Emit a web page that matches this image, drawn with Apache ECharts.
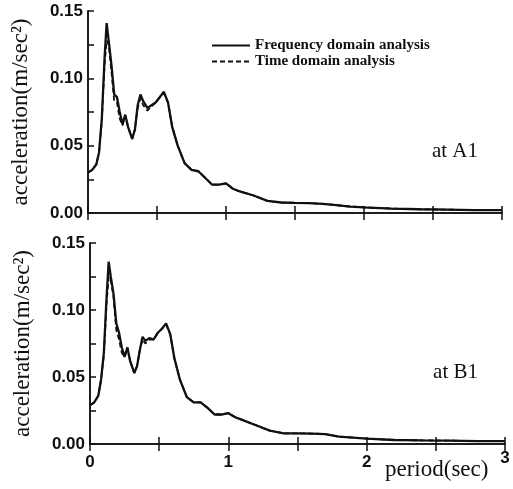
<!DOCTYPE html>
<html>
<head>
<meta charset="utf-8">
<script src="https://cdn.jsdelivr.net/npm/echarts@6/dist/echarts.min.js"></script>
<style>
  html, body { margin: 0; padding: 0; background: #fff; }
  #chart { width: 513px; height: 489px; }
</style>
</head>
<body>
<div id="chart"></div>
<script>
  // period (sec) sample points shared by all curves
  const periods = [
    0.0, 0.03, 0.06, 0.08, 0.10, 0.12, 0.135, 0.15, 0.17, 0.19,
    0.21, 0.23, 0.25, 0.27, 0.29, 0.32, 0.34, 0.36, 0.38, 0.40,
    0.43, 0.46, 0.49, 0.52, 0.55, 0.58, 0.61, 0.65, 0.70, 0.75,
    0.80, 0.85, 0.90, 0.95, 1.00, 1.05, 1.10, 1.20, 1.30, 1.40,
    1.50, 1.60, 1.70, 1.80, 1.90, 2.00, 2.20, 2.40, 2.60, 2.80, 3.00
  ]

  // at A1
  const accelFreqA1 = [
    0.030, 0.032, 0.036, 0.045, 0.070, 0.115, 0.141, 0.128, 0.110, 0.088,
    0.086, 0.075, 0.066, 0.073, 0.064, 0.055, 0.062, 0.080, 0.088, 0.083,
    0.078, 0.080, 0.082, 0.086, 0.090, 0.082, 0.064, 0.050, 0.037, 0.032,
    0.031, 0.026, 0.021, 0.021, 0.022, 0.018, 0.016, 0.013, 0.009, 0.0078,
    0.0075, 0.0074, 0.0068, 0.0058, 0.0048, 0.0042, 0.0033, 0.0028, 0.0025, 0.0022, 0.0022
  ]
  const accelTimeA1 = [
    0.030, 0.032, 0.036, 0.045, 0.068, 0.110, 0.128, 0.125, 0.105, 0.083,
    0.082, 0.070, 0.065, 0.072, 0.064, 0.055, 0.062, 0.078, 0.085, 0.080,
    0.076, 0.079, 0.082, 0.086, 0.089, 0.082, 0.064, 0.050, 0.037, 0.032,
    0.031, 0.026, 0.021, 0.021, 0.022, 0.018, 0.016, 0.013, 0.009, 0.0078,
    0.0075, 0.0074, 0.0068, 0.0058, 0.0048, 0.0042, 0.0033, 0.0028, 0.0025, 0.0022, 0.0022
  ]

  // at B1
  const accelFreqB1 = [
    0.029, 0.031, 0.036, 0.048, 0.068, 0.110, 0.136, 0.125, 0.112, 0.090,
    0.083, 0.072, 0.065, 0.072, 0.062, 0.053, 0.058, 0.070, 0.080, 0.077,
    0.079, 0.078, 0.083, 0.086, 0.090, 0.082, 0.064, 0.048, 0.035, 0.031,
    0.031, 0.027, 0.022, 0.022, 0.023, 0.020, 0.018, 0.014, 0.010, 0.008,
    0.008, 0.0078, 0.0074, 0.0055, 0.0048, 0.0040, 0.0030, 0.0027, 0.0025, 0.0022, 0.0022
  ]
  const accelTimeB1 = [
    0.029, 0.031, 0.036, 0.048, 0.066, 0.105, 0.125, 0.122, 0.110, 0.085,
    0.078, 0.068, 0.065, 0.072, 0.062, 0.053, 0.058, 0.070, 0.078, 0.075,
    0.078, 0.078, 0.083, 0.086, 0.089, 0.082, 0.064, 0.048, 0.035, 0.031,
    0.031, 0.027, 0.022, 0.022, 0.023, 0.020, 0.018, 0.014, 0.010, 0.008,
    0.008, 0.0078, 0.0074, 0.0055, 0.0048, 0.0040, 0.0030, 0.0027, 0.0025, 0.0022, 0.0022
  ]

  const seriesNames = ['Frequency domain analysis', 'Time domain analysis']
  const panelLabels = ['at A1', 'at B1']

  const serif = '"Liberation Serif", "Times New Roman", serif'
  const sans = '"Liberation Sans", Arial, sans-serif'
  const ink = '#111'

  const pair = (xs, ys) => xs.map((x, i) => [x, ys[i]])
  const lineStyle = { color: ink, width: 1.5 }

  // 下边框 + 上边框
  const xAxisPair = (gridIndex, withLabels) => [
    {
      gridIndex, type: 'value', min: 0, max: 3, interval: 0.5,
      axisLine: { lineStyle },
      axisTick: { inside: true, length: 7, lineStyle },
      splitLine: { show: false },
      axisLabel: {
        show: withLabels, margin: 6,
        color: ink, fontFamily: sans, fontWeight: 'bold', fontSize: 17,
        formatter: (v) => (v === 3 ? '{hi|3}' : Number.isInteger(v) ? '{n|' + v + '}' : ''),
        rich: { n: { padding: [4, 0, 0, 0] }, hi: {} }
      }
    },
    {
      gridIndex, type: 'value', position: 'top', min: 0, max: 3, interval: 0.5,
      axisLine: { lineStyle },
      axisTick: { inside: true, length: 7, lineStyle },
      splitLine: { show: false },
      axisLabel: { show: false }
    }
  ]

  // 左轴带刻度值 + 右边框
  const yAxisPair = (gridIndex) => [
    {
      gridIndex, type: 'value', min: 0, max: 0.15, interval: 0.05,
      name: 'acceleration(m/sec²)', nameLocation: 'middle', nameGap: 56, nameRotate: 90,
      nameTextStyle: { color: ink, fontFamily: serif, fontSize: 23 },
      axisLine: { lineStyle },
      axisTick: { inside: true, length: 6, lineStyle },
      minorTick: { show: true, splitNumber: 2, length: 6, lineStyle },
      splitLine: { show: false },
      axisLabel: {
        margin: 5, color: ink, fontFamily: sans, fontWeight: 'bold', fontSize: 17,
        formatter: (v) => v.toFixed(2)
      }
    },
    {
      gridIndex, type: 'value', position: 'right', min: 0, max: 0.15, interval: 0.025,
      axisLine: { lineStyle },
      axisTick: { inside: false, length: 5, lineStyle },
      splitLine: { show: false },
      axisLabel: { show: false }
    }
  ]

  const makeSeries = (name, data, axisIndex, dashed) => ({
    name, type: 'line', data, xAxisIndex: axisIndex, yAxisIndex: axisIndex,
    symbol: 'none', silent: true, animation: false,
    lineStyle: { color: ink, width: dashed ? 1.8 : 2.3, type: dashed ? [5, 3] : 'solid' },
    itemStyle: { color: ink }
  })

  const chart = echarts.init(document.getElementById('chart'), null, { renderer: 'canvas' })
  chart.setOption({
    animation: false,
    backgroundColor: '#fff',
    grid: [
      { left: 88, top: 11, width: 414, height: 202 },
      { left: 90, top: 243, width: 415, height: 201 }
    ],
    xAxis: [...xAxisPair(0, false), ...xAxisPair(1, true)],
    yAxis: [...yAxisPair(0), ...yAxisPair(1)],
    legend: {
      data: seriesNames,
      orient: 'vertical', left: 206, top: 33,
      itemWidth: 38, itemHeight: 14, itemGap: 1,
      selectedMode: false,
      itemStyle: { opacity: 0 },
      textStyle: { color: ink, fontFamily: serif, fontSize: 15, fontWeight: 'bold' }
    },
    graphic: [
      {
        type: 'text', x: 478, y: 151,
        style: { text: panelLabels[0], fill: ink, font: '21px ' + serif, align: 'right', verticalAlign: 'middle' }
      },
      {
        type: 'text', x: 478, y: 372,
        style: { text: panelLabels[1], fill: ink, font: '21px ' + serif, align: 'right', verticalAlign: 'middle' }
      },
      {
        type: 'text', x: 385, y: 470,
        style: { text: 'period(sec)', fill: ink, font: '23px ' + serif, align: 'left', verticalAlign: 'middle' }
      }
    ],
    series: [
      makeSeries(seriesNames[0], pair(periods, accelFreqA1), 0, false),
      makeSeries(seriesNames[1], pair(periods, accelTimeA1), 0, true),
      makeSeries(seriesNames[0], pair(periods, accelFreqB1), 2, false),
      makeSeries(seriesNames[1], pair(periods, accelTimeB1), 2, true)
    ]
  })
</script>
</body>
</html>
